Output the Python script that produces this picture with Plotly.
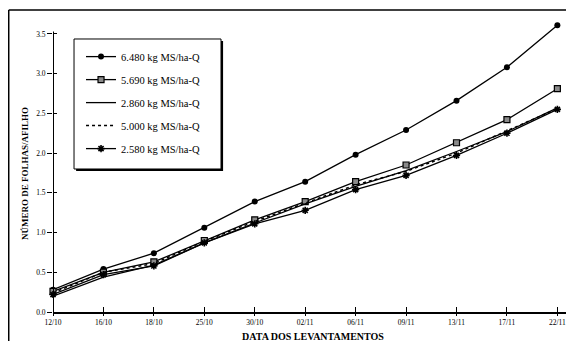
import plotly.graph_objects as go

dates = ["12/10", "16/10", "18/10", "25/10", "30/10", "02/11", "06/11", "09/11", "13/11", "17/11", "22/11"]
s_6480 = [0.28, 0.54, 0.74, 1.06, 1.39, 1.64, 1.98, 2.29, 2.66, 3.08, 3.61]
s_5690 = [0.26, 0.50, 0.63, 0.90, 1.16, 1.39, 1.64, 1.85, 2.13, 2.42, 2.81]
s_2860 = [0.20, 0.44, 0.59, 0.87, 1.12, 1.36, 1.58, 1.78, 2.02, 2.27, 2.57]
s_5000 = [0.24, 0.50, 0.61, 0.89, 1.14, 1.37, 1.60, 1.77, 2.00, 2.28, 2.56]
s_2580 = [0.22, 0.47, 0.58, 0.87, 1.11, 1.28, 1.54, 1.72, 1.97, 2.25, 2.55]
names = ["6.480 kg MS/ha-Q", "5.690 kg MS/ha-Q", "2.860 kg MS/ha-Q", "5.000 kg MS/ha-Q", "2.580 kg MS/ha-Q"]
y_ticks = [0.0, 0.5, 1.0, 1.5, 2.0, 2.5, 3.0, 3.5]

xi = list(range(len(dates)))
FONT = "Liberation Serif"

fig = go.Figure()
styles = [
    dict(mode="lines+markers", line=dict(color="black", width=1.3),
         marker=dict(symbol="circle", size=6, color="black")),
    dict(mode="lines+markers", line=dict(color="black", width=1.3),
         marker=dict(symbol="square", size=6, color="#8a8a8a", line=dict(color="black", width=1.2))),
    dict(mode="lines", line=dict(color="black", width=1.3)),
    dict(mode="lines", line=dict(color="black", width=1.5, dash="dot")),
    dict(mode="lines+markers", line=dict(color="black", width=1.3),
         marker=dict(symbol="asterisk-open", size=6, color="black", line=dict(color="black", width=1.6))),
]
for i, (vals, nm, st) in enumerate(zip([s_6480, s_5690, s_2860, s_5000, s_2580], names, styles)):
    fig.add_trace(go.Scatter(x=xi, y=vals, name=nm, legendgroup=f"g{i}", cliponaxis=False, **st))

# the page body adds an 8px offset; margins compensate so the plot lands where the original is
fig.update_layout(
    width=574, height=341,
    margin=dict(l=45, r=10, t=10, b=37),
    paper_bgcolor="white", plot_bgcolor="white",
    font=dict(family=FONT, color="black", size=8),
    showlegend=True,
    legend=dict(x=0.054, y=0.918, xanchor="left", yanchor="top",
                bgcolor="rgba(0,0,0,0)", borderwidth=0,
                font=dict(family=FONT, size=10.5, color="black"),
                tracegroupgap=4, itemwidth=30),
    xaxis=dict(range=[0, 10.29], tickmode="array", tickvals=xi, ticktext=dates,
               showgrid=False, zeroline=False, showline=True, linecolor="black", linewidth=2,
               ticks="outside", ticklen=2, tickwidth=1, tickcolor="black",
               tickfont=dict(family=FONT, size=7.5)),
    xaxis2=dict(range=[0, 10.29], overlaying="x", tickmode="array", tickvals=xi,
                showticklabels=False, showgrid=False, zeroline=False,
                ticks="inside", ticklen=5, tickwidth=1, tickcolor="black", anchor="y"),
    yaxis=dict(range=[0, 3.7], tickmode="array", tickvals=y_ticks,
               ticktext=[f"{v:.1f}" for v in y_ticks],
               showgrid=False, zeroline=False, showline=False,
               ticks="outside", ticklen=5, tickwidth=1, tickcolor="black",
               tickfont=dict(family=FONT, size=7.5)),
    yaxis2=dict(range=[0, 3.7], overlaying="y", tickmode="array", tickvals=y_ticks,
                showticklabels=False, showgrid=False, zeroline=False,
                ticks="inside", ticklen=4, tickwidth=1, tickcolor="black", anchor="x"),
)
fig.add_trace(go.Scatter(x=[None], y=[None], xaxis="x2", yaxis="y2", showlegend=False, hoverinfo="skip"))

# legend box with drop shadow
fig.add_shape(type="rect", xref="paper", yref="paper", x0=0.0445, x1=0.3277, y0=0.4796, y1=0.9218,
              line=dict(width=0), fillcolor="black", layer="above")
fig.add_shape(type="rect", xref="paper", yref="paper", x0=0.0405, x1=0.3237, y0=0.4864, y1=0.9286,
              line=dict(color="black", width=1), fillcolor="white", layer="above")

# y axis line (stops at 3.5 like the original)
fig.add_shape(type="line", xref="x", yref="y", x0=0, x1=0, y0=-0.05, y1=3.53,
              line=dict(color="black", width=2))
# outer frame (top and left)
fig.add_shape(type="line", xref="paper", yref="paper", x0=-0.0853, x1=1.03, y0=1.0272, y1=1.0272,
              line=dict(color="black", width=1.5))
fig.add_shape(type="line", xref="paper", yref="paper", x0=-0.0853, x1=-0.0853, y0=1.0272, y1=-0.15,
              line=dict(color="black", width=1.5))

fig.add_annotation(text="<b>DATA DOS LEVANTAMENTOS</b>", xref="paper", yref="paper",
                   x=0.5, y=-0.082, xanchor="center", yanchor="middle", showarrow=False,
                   font=dict(family=FONT, size=10, color="black"))
fig.add_annotation(text="<b>NÚMERO DE FOLHAS/AFILHO</b>", xref="paper", yref="paper",
                   x=-0.054, y=0.473, xanchor="center", yanchor="middle", showarrow=False,
                   textangle=-90, font=dict(family=FONT, size=9, color="black"))

fig.write_html("out.html")
